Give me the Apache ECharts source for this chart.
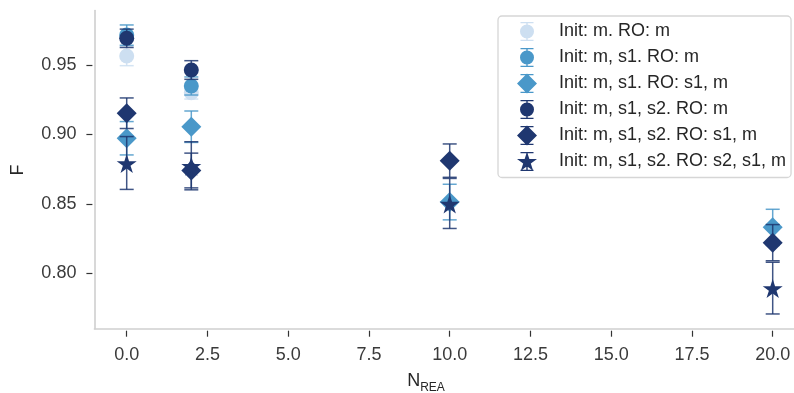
<!DOCTYPE html>
<html>
<head>
<meta charset="utf-8">
<script src="https://cdn.jsdelivr.net/npm/echarts@6/dist/echarts.min.js"></script>
<style>
html,body{margin:0;padding:0;background:#fff;}
#chart{width:794px;height:393px;}
</style>
</head>
<body>
<div id="chart"></div>
<script>
// ---------------- data ----------------
const seriesNames = [
  'Init: m. RO: m',
  'Init: m, s1. RO: m',
  'Init: m, s1. RO: s1, m',
  'Init: m, s1, s2. RO: m',
  'Init: m, s1, s2. RO: s1, m',
  'Init: m, s1, s2. RO: s2, s1, m'
];

const x_m_ro_m = [0, 2];
const y_m_ro_m = [0.9565, 0.9300];
const e_m_ro_m = [0.0070, 0.0045];

const x_ms1_ro_m = [0, 2];
const y_ms1_ro_m = [0.9715, 0.9349];
const e_ms1_ro_m = [0.0073, 0.0065];

const x_ms1_ro_s1m = [0, 2, 10, 20];
const y_ms1_ro_s1m = [0.8973, 0.9056, 0.8514, 0.8332];
const e_ms1_ro_s1m = [0.0120, 0.0113, 0.0128, 0.0130];

const x_ms1s2_ro_m = [0, 2];
const y_ms1s2_ro_m = [0.9692, 0.9464];
const e_ms1s2_ro_m = [0.0066, 0.0067];

const x_ms1s2_ro_s1m = [0, 2, 10, 20];
const y_ms1s2_ro_s1m = [0.9153, 0.8741, 0.8812, 0.8222];
const e_ms1s2_ro_s1m = [0.0110, 0.0125, 0.0120, 0.0130];

const x_ms1s2_ro_s2s1m = [0, 2, 10, 20];
const y_ms1s2_ro_s2s1m = [0.8795, 0.8775, 0.8504, 0.7895];
const e_ms1s2_ro_s2s1m = [0.0190, 0.0173, 0.0180, 0.0186];

const xTicks = [0, 2.5, 5, 7.5, 10, 12.5, 15, 17.5, 20];
const yTicks = [0.80, 0.85, 0.90, 0.95];

// ---------------- styles ----------------
const LIGHT = '#cddff1', MED = '#4a98c9', DARK = '#1f3770';
const FONT = 'Liberation Sans, Arial, Helvetica, sans-serif';

function starPts(r, cx, cy) {
  const pts = [];
  for (let i = 0; i < 10; i++) {
    const rr = (i % 2) ? r * 0.381966 : r;
    const a = -Math.PI / 2 + i * Math.PI / 5;
    pts.push((cx + rr * Math.cos(a)).toFixed(3) + ',' + (cy + rr * Math.sin(a)).toFixed(3));
  }
  return 'M' + pts.join('L') + 'Z';
}
const STAR = 'path://' + starPts(100, 0, 0);

function rect(x0, y0, x1, y1) {
  return 'M' + x0 + ',' + y0 + 'L' + x1 + ',' + y0 + 'L' + x1 + ',' + y1 + 'L' + x0 + ',' + y1 + 'Z';
}
function legendIcon(kind) {
  let p = 'M-27,-11L-27,-11M27,11L27,11';
  p += rect(-6.5, -9.5, 6.5, -8.3) + rect(-6.5, 8.3, 6.5, 9.5) + rect(-0.7, -9.5, 0.7, 9.5);
  if (kind === 'circle') p += 'M-7,0A7,7 0 1,1 7,0A7,7 0 1,1 -7,0Z';
  else if (kind === 'diamond') p += 'M0,-10L10,0L0,10L-10,0Z';
  else p += starPts(10.5, 0, 0.8);
  return 'path://' + p;
}

const defs = [
  {x: x_m_ro_m, y: y_m_ro_m, e: e_m_ro_m, color: LIGHT, sym: 'circle', size: 15, kind: 'circle'},
  {x: x_ms1_ro_m, y: y_ms1_ro_m, e: e_ms1_ro_m, color: MED, sym: 'circle', size: 15, kind: 'circle'},
  {x: x_ms1_ro_s1m, y: y_ms1_ro_s1m, e: e_ms1_ro_s1m, color: MED, sym: 'diamond', size: [20, 20], kind: 'diamond'},
  {x: x_ms1s2_ro_m, y: y_ms1s2_ro_m, e: e_ms1s2_ro_m, color: DARK, sym: 'circle', size: 15, kind: 'circle'},
  {x: x_ms1s2_ro_s1m, y: y_ms1s2_ro_s1m, e: e_ms1s2_ro_s1m, color: DARK, sym: 'diamond', size: [20, 20], kind: 'diamond'},
  {x: x_ms1s2_ro_s2s1m, y: y_ms1s2_ro_s2s1m, e: e_ms1s2_ro_s2s1m, color: DARK, sym: STAR, size: [20, 19], kind: 'star', offset: [0, 0.5]}
];

const series = [];
defs.forEach((d, i) => {
  const data = d.x.map((xv, k) => [xv, d.y[k], d.e[k]]);
  series.push({
    name: 'eb' + i,
    type: 'custom',
    silent: true,
    clip: false,
    z: 2 + 2 * i,
    encode: {x: 0, y: 1},
    data: data,
    renderItem: function (params, api) {
      const xv = api.value(0), yv = api.value(1), ev = api.value(2);
      const t = api.coord([xv, yv + ev]);
      const b = api.coord([xv, yv - ev]);
      const hw = 7;
      const st = {stroke: d.color, lineWidth: 1.5, opacity: 0.85};
      return {
        type: 'group',
        children: [
          {type: 'line', shape: {x1: t[0], y1: t[1], x2: b[0], y2: b[1]}, style: st},
          {type: 'line', shape: {x1: t[0] - hw, y1: t[1], x2: t[0] + hw, y2: t[1]}, style: st},
          {type: 'line', shape: {x1: b[0] - hw, y1: b[1], x2: b[0] + hw, y2: b[1]}, style: st}
        ]
      };
    }
  });
  series.push({
    name: seriesNames[i],
    type: 'scatter',
    z: 3 + 2 * i,
    symbol: d.sym,
    symbolSize: d.size,
    symbolOffset: d.offset || [0, 0],
    itemStyle: {color: d.color, opacity: 1},
    data: d.x.map((xv, k) => [xv, d.y[k]])
  });
});

const chart = echarts.init(document.getElementById('chart'), null, {renderer: 'canvas'});
const axisFont = {fontFamily: FONT, fontSize: 18, color: '#3a3a3a'};

chart.setOption({
  animation: false,
  backgroundColor: '#fff',
  grid: {left: 94.4, top: 10.5, width: 710.6, height: 318.2, containLabel: false, outerBoundsMode: 'none'},
  xAxis: [
    {type: 'value', min: -1, max: 21, position: 'bottom',
     axisLine: {show: true, onZero: false, lineStyle: {color: '#cfcfcf', width: 1.6}},
     axisTick: {show: false}, axisLabel: {show: false}, splitLine: {show: false}},
    {type: 'value', min: -1, max: 21, position: 'bottom', offset: 2,
     axisLine: {show: false, onZero: false},
     axisTick: {show: true, length: 6, customValues: xTicks, lineStyle: {color: '#333', width: 1.2}},
     axisLabel: {show: true, customValues: xTicks, margin: 15, formatter: v => v.toFixed(1), ...axisFont},
     splitLine: {show: false}}
  ],
  yAxis: [
    {type: 'value', min: 0.7603, max: 0.9892, position: 'left',
     axisLine: {show: true, onZero: false, lineStyle: {color: '#cfcfcf', width: 1.6}},
     axisTick: {show: false}, axisLabel: {show: false}, splitLine: {show: false}},
    {type: 'value', min: 0.7603, max: 0.9892, position: 'left', offset: 2,
     axisLine: {show: false, onZero: false},
     axisTick: {show: true, length: 6, customValues: yTicks, lineStyle: {color: '#333', width: 1.2}},
     axisLabel: {show: true, customValues: yTicks, margin: 16, formatter: v => v.toFixed(2), ...axisFont},
     splitLine: {show: false}}
  ],
  legend: {
    orient: 'vertical',
    left: 498, top: 16,
    padding: [4.5, 5, 5, 2],
    itemWidth: 54, itemHeight: 22, itemGap: 4,
    backgroundColor: 'rgba(255,255,255,0.85)',
    borderColor: '#d6d6d6', borderWidth: 1.3, borderRadius: 4,
    textStyle: {fontFamily: FONT, fontSize: 18, color: '#262626'},
    data: seriesNames.map((n, i) => ({name: n, icon: legendIcon(defs[i].kind)})),
    selectedMode: false
  },
  graphic: [
    {type: 'text', x: 18, y: 170, rotation: Math.PI / 2,
     style: {text: 'F', font: '18px ' + FONT, fill: '#262626', align: 'center', verticalAlign: 'middle'}},
    {type: 'text', x: 426, y: 383,
     style: {text: '{n|N}{s|REA}', align: 'center', verticalAlign: 'middle', fill: '#262626',
       rich: {n: {fontFamily: FONT, fontSize: 18, lineHeight: 22, verticalAlign: 'top', fill: '#262626'},
              s: {fontFamily: FONT, fontSize: 12, lineHeight: 22, verticalAlign: 'bottom', fill: '#262626'}}}}
  ],
  series: series
});
</script>
</body>
</html>
